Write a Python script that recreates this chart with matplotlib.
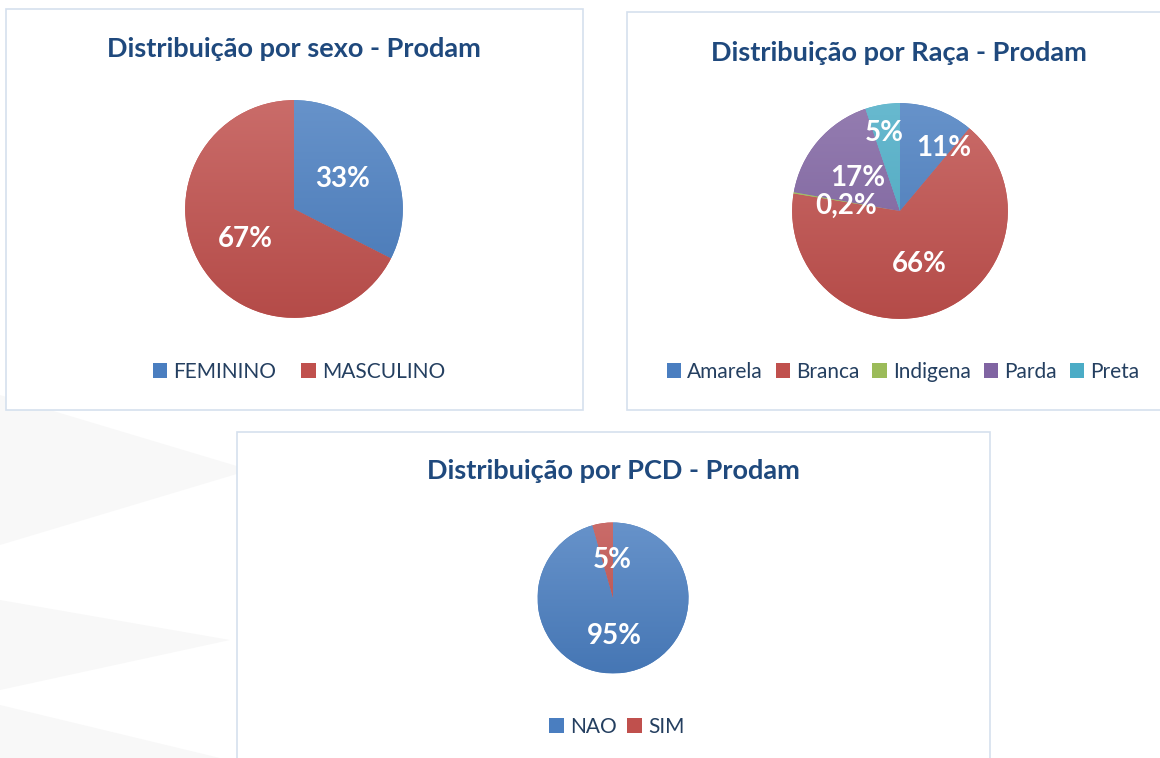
import matplotlib
matplotlib.use("Agg")
import matplotlib.pyplot as plt
import numpy as np
from matplotlib.colors import to_rgb
from matplotlib.patches import Rectangle, Polygon

plt.rcParams["font.family"] = ["Lato", "DejaVu Sans"]

W, H = 1160, 758

# --- data -------------------------------------------------------------------
sexo_labels = ["FEMININO", "MASCULINO"]
sexo_values = [32.5, 67.5]
sexo_pct = ["33%", "67%"]

raca_labels = ["Amarela", "Branca", "Indigena", "Parda", "Preta"]
raca_values = [11.1, 66.5, 0.2, 17.0, 5.2]
raca_pct = ["11%", "66%", "0,2%", "17%", "5%"]

pcd_labels = ["NAO", "SIM"]
pcd_values = [95.6, 4.4]
pcd_pct = ["95%", "5%"]

BLUE, RED, GREEN, PURPLE, AQUA = "#4A7EC0", "#C0504D", "#9BBB59", "#8064A2", "#4BACC6"
TITLE_C = "#1F497D"
LEGEND_C = "#243F60"


def fx(px):
    return px / W


def fy(py):
    return 1 - py / H


def shade(c, f):
    r = np.array(to_rgb(c))
    if f > 0:
        return r + (1 - r) * f
    return r * (1 + f)


def panel(fig, x0, y0, x1, y1):
    fig.add_artist(Rectangle((fx(x0), fy(y1)), fx(x1) - fx(x0), fy(y0) - fy(y1),
                             transform=fig.transFigure, facecolor="white",
                             edgecolor="#D5E0EE", lw=1.2, zorder=1))


def draw_pie(fig, cx, cy, r, values, colors, pcts, places, fs):
    ax = fig.add_axes([fx(cx - r), fy(cy + r), 2 * r / W, 2 * r / H])
    ax.set_zorder(3)
    wedges, _ = ax.pie(values, colors=colors, startangle=90, counterclock=False,
                       radius=1, wedgeprops=dict(linewidth=0))
    # Office-style vertical gradient per slice
    for w in wedges:
        c = w.get_facecolor()
        grad = np.linspace(shade(c, 0.16), shade(c, -0.06), 256).reshape(256, 1, 3)
        im = ax.imshow(grad, extent=(-1, 1, -1, 1), origin="upper", aspect="auto",
                       zorder=w.get_zorder() + 0.1)
        im.set_clip_path(w)
    for w, txt, (d, off) in zip(wedges, pcts, places):
        ang = np.deg2rad((w.theta1 + w.theta2) / 2 + off)
        ax.text(d * np.cos(ang), d * np.sin(ang), txt, ha="center", va="center",
                color="white", fontsize=fs, fontweight="bold", zorder=5)
    ax.set_xlim(-1.02, 1.02)
    ax.set_ylim(-1.02, 1.02)
    ax.set_aspect("equal")
    ax.axis("off")
    return ax, wedges


def legend(fig, wedges, labels, cx, cy, spacing):
    fig.legend(wedges, labels, loc="center", bbox_to_anchor=(fx(cx), fy(cy)),
               bbox_transform=fig.transFigure, ncol=len(labels), frameon=False,
               handlelength=0.7, handleheight=0.7, handletextpad=0.3,
               columnspacing=spacing, labelcolor=LEGEND_C,
               prop={"family": ["Lato", "DejaVu Sans"], "size": 15})


fig = plt.figure(figsize=(W / 100, H / 100), dpi=100)
fig.patch.set_facecolor("white")

# faint background decoration on the left
for pts in ([(0, 395), (250, 470), (0, 545)], [(0, 600), (230, 640), (0, 690)],
            [(0, 705), (220, 758), (0, 758)]):
    fig.add_artist(Polygon([(fx(a), fy(b)) for a, b in pts], closed=True,
                           transform=fig.transFigure, facecolor="#F8F8F8",
                           edgecolor="none", zorder=0))

panel(fig, 6, 9, 583, 410)
panel(fig, 627, 12, 1162, 410)
panel(fig, 237, 432, 990, 762)

title_kw = dict(ha="center", va="center", fontsize=19.5, fontweight="bold",
                color=TITLE_C, zorder=4)
fig.text(fx(294), fy(49), "Distribuição por sexo - Prodam", **title_kw)
fig.text(fx(899), fy(53), "Distribuição por Raça - Prodam", **title_kw)
fig.text(fx(613), fy(471), "Distribuição por PCD - Prodam", **title_kw)

ax1, w1 = draw_pie(fig, 294, 209, 111, sexo_values, [BLUE, RED], sexo_pct,
                   [(0.52, 0), (0.52, 0)], 20)
legend(fig, w1, sexo_labels, 299, 372, 1.2)

ax2, w2 = draw_pie(fig, 900, 211, 110, raca_values, [BLUE, RED, GREEN, PURPLE, AQUA],
                   raca_pct, [(0.71, -15), (0.52, 0), (0.5, 4), (0.5, 3), (0.74, 2)], 20)
legend(fig, w2, raca_labels, 903, 372, 0.6)

ax3, w3 = draw_pie(fig, 613, 598, 77, pcd_values, [BLUE, RED], pcd_pct,
                   [(0.5, -6), (0.5, -7)], 20)
legend(fig, w3, pcd_labels, 617, 727, 0.5)

fig.savefig("out.png", dpi=100, facecolor="white")
